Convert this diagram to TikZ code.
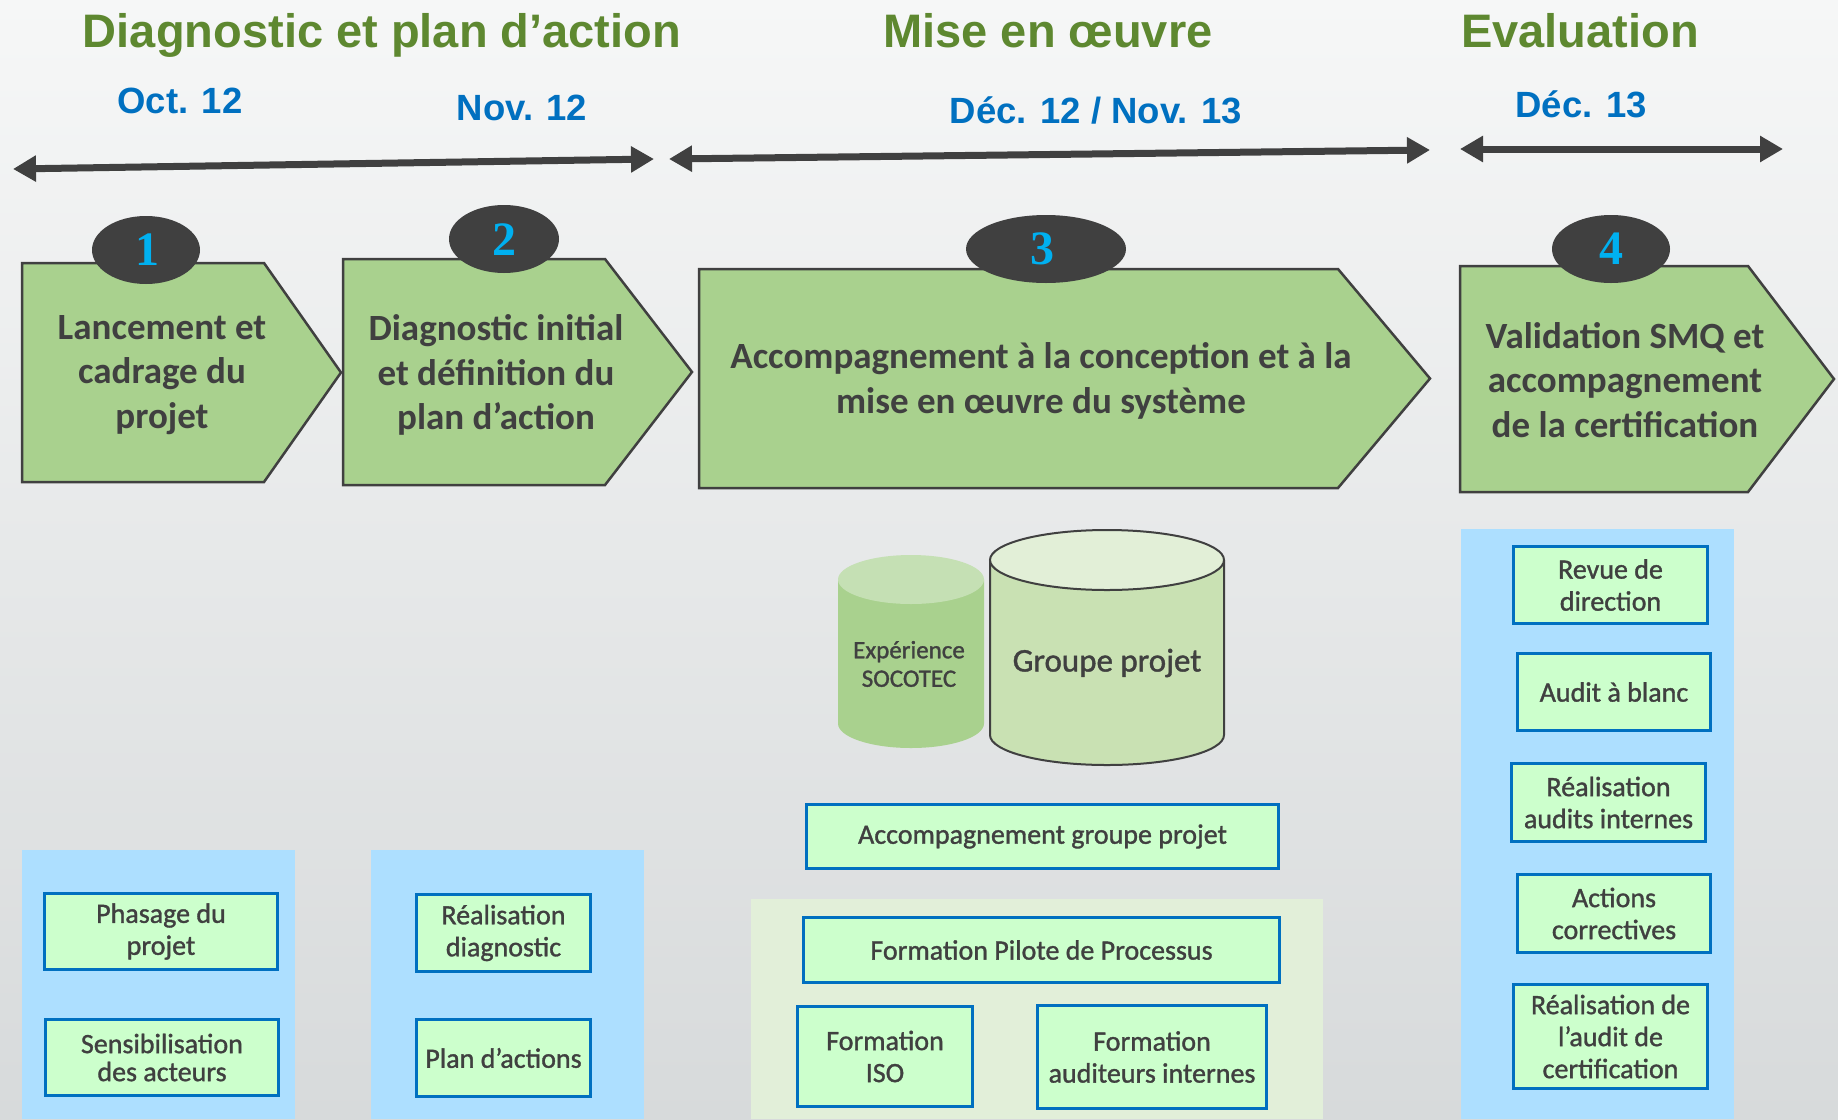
\documentclass[tikz,border=0pt]{standalone}
\usepackage{fontspec}
\setmainfont{Carlito}
\newfontfamily\boxf{Carlito}[FakeBold=1.2]
\newfontfamily\arialf{Liberation Sans}
\newfontfamily\timesf{Liberation Serif}
\usetikzlibrary{arrows.meta}
\definecolor{dg}{HTML}{404040}
\definecolor{shapefill}{HTML}{A9D18E}
\definecolor{numcyan}{HTML}{00B0F0}
\definecolor{boxblue}{HTML}{0070C0}
\definecolor{boxfill}{HTML}{CCFFCC}
\definecolor{panelblue}{HTML}{ADDFFF}
\definecolor{panelgreen}{HTML}{E2EFD9}
\definecolor{titlegreen}{HTML}{5E8830}
\definecolor{dateblue}{HTML}{0070C0}
\definecolor{bgtop}{HTML}{F6F7F7}
\definecolor{bgbot}{HTML}{D7DADB}
\definecolor{cylAbody}{HTML}{A9D18E}
\definecolor{cylAtop}{HTML}{C5E0B4}
\definecolor{cylBbody}{HTML}{C9E1B3}
\definecolor{cylBtop}{HTML}{E2EFD7}
\begin{document}
\begin{tikzpicture}[x=1pt,y=-1pt,
  chev/.style={draw=dg, line width=2.5pt, fill=shapefill, line join=miter},
  numtxt/.style={font=\timesf\bfseries\fontsize{48}{48}\selectfont, text=numcyan, inner sep=0pt},
  chevtxt/.style={font=\bfseries\fontsize{37}{44.5}\selectfont, text=dg, align=center, inner sep=0pt},
  sbox/.style={draw=boxblue, line width=2.8pt, fill=boxfill, align=center, text=dg,
    font=\boxf\fontsize{28}{32}\selectfont, inner sep=0pt},
  ttl/.style={font=\arialf\bfseries\fontsize{47}{56}\selectfont, text=titlegreen, anchor=base, inner sep=0pt},
  dt/.style={font=\arialf\bfseries\fontsize{36.5}{44}\selectfont, text=dateblue, anchor=base, inner sep=0pt},
  tl/.style={line width=7pt, draw=dg, {Triangle[length=23pt,width=25pt]}-{Triangle[length=23pt,width=25pt]}},
]
\useasboundingbox (0,0) rectangle (1838,1119);
\shade[top color=bgtop, bottom color=bgbot] (0,0) rectangle (1838,1119);

% titles
\node[ttl] (t1) at (382,47) {Diagnostic et plan d’action};
\node[ttl] (t2) at (1048,47) {Mise en œuvre};
\node[ttl] (t3) at (1580,47) {Evaluation};

% dates
\node[dt] (d1) at (180,113) {Oct. 12};
\node[dt] (d2) at (522,120) {Nov. 12};
\node[dt] (d3) at (1096,123) {Déc. 12 / Nov. 13};
\node[dt] (d4) at (1581,117) {Déc. 13};

% timeline arrows
\coordinate (a1l) at (13,169);
\coordinate (a1r) at (654,159);
\coordinate (a2l) at (669,159);
\coordinate (a2r) at (1430,150);
\coordinate (a3l) at (1460,149);
\coordinate (a3r) at (1783,149);
\draw[tl] (a1l) -- (a1r);
\draw[tl] (a2l) -- (a2r);
\draw[tl] (a3l) -- (a3r);

% chevrons
\draw[chev] (22,263) -- (264,263) -- (341,372.5) -- (264,482) -- (22,482) -- cycle;
\draw[chev] (343,259) -- (605,259) -- (692,372) -- (605,485) -- (343,485) -- cycle;
\draw[chev] (699,269) -- (1338,269) -- (1430,378.5) -- (1338,488) -- (699,488) -- cycle;
\draw[chev] (1460,266) -- (1748,266) -- (1834,379) -- (1748,492) -- (1460,492) -- cycle;

\node[chevtxt] (c1) at (162,375) {Lancement et\\cadrage du\\projet};
\node[chevtxt] (c2) at (496,375) {Diagnostic initial\\et définition du\\plan d’action};
\node[chevtxt] (c3) at (1041,381) {Accompagnement à la conception et à la\\mise en œuvre du système};
\node[chevtxt] (c4) at (1625,380) {Validation SMQ et\\accompagnement\\de la certification};

% number circles
\fill[dg] (146,250) ellipse[x radius=54, y radius=34];
\fill[dg] (504,239) ellipse[x radius=55, y radius=34];
\fill[dg] (1046,249) ellipse[x radius=80, y radius=34];
\fill[dg] (1611,249) ellipse[x radius=59, y radius=34];
\node[numtxt] (n1) at (147,250) {1};
\node[numtxt] (n2) at (504,240) {2};
\node[numtxt] (n3) at (1042,249) {3};
\node[numtxt] (n4) at (1611,249) {4};

% panels
\fill[panelblue] (22,850) rectangle (295,1119);
\fill[panelblue] (371,850) rectangle (644,1119);
\fill[panelgreen] (751,899) rectangle (1323,1119);
\fill[panelblue] (1461,529) rectangle (1734,1119);

% cylinders
\fill[cylAbody] (838,579.5) -- (838,723.5) arc[start angle=180,end angle=0,x radius=73,y radius=24.5] -- (984,579.5) -- cycle;
\fill[cylAtop] (911,579.5) ellipse[x radius=73, y radius=24.5];
\fill[cylBbody] (990,560) -- (990,735) arc[start angle=180,end angle=0,x radius=117,y radius=30] -- (1224,560) -- cycle;
\draw[dg, line width=2pt] (990,560) -- (990,735) arc[start angle=180,end angle=0,x radius=117,y radius=30] -- (1224,560);
\filldraw[draw=dg, line width=2pt, fill=cylBtop] (1107,560) ellipse[x radius=117, y radius=30];
\node[font=\boxf\fontsize{25}{28.5}\selectfont, text=dg, align=center, inner sep=0pt] (exp) at (909,664) {Expérience\\SOCOTEC};
\node[font=\boxf\fontsize{33}{40}\selectfont, text=dg, inner sep=0pt] (grp) at (1107,663) {Groupe projet};

% small boxes
\node[sbox, minimum width=233pt, minimum height=76pt] (b1) at (161,931.5) {Phasage du\\projet};
\node[sbox, minimum width=233pt, minimum height=76pt, font=\boxf\fontsize{28}{28}\selectfont] (b2) at (162,1057.5) {Sensibilisation\\des acteurs};
\node[sbox, minimum width=174pt, minimum height=77pt] (b3) at (503.5,933) {Réalisation\\diagnostic};
\node[sbox, minimum width=174pt, minimum height=77pt] (b4) at (503.5,1058) {Plan d’actions};
\node[sbox, minimum width=472pt, minimum height=64pt] (b5) at (1042.5,836.5) {Accompagnement groupe projet};
\node[sbox, minimum width=476pt, minimum height=65pt] (b6) at (1041.5,950) {Formation Pilote de Processus};
\node[sbox, minimum width=175pt, minimum height=100pt] (b7) at (885,1056.5) {Formation\\ISO};
\node[sbox, minimum width=229pt, minimum height=103pt] (b8) at (1152,1057) {Formation\\auditeurs internes};
\node[sbox, minimum width=194pt, minimum height=77pt] (b9) at (1610.5,585) {Revue de\\direction};
\node[sbox, minimum width=193pt, minimum height=77pt] (b10) at (1614,692) {Audit à blanc};
\node[sbox, minimum width=194pt, minimum height=78pt] (b11) at (1608.5,802.5) {Réalisation\\audits internes};
\node[sbox, minimum width=193pt, minimum height=78pt] (b12) at (1614,913.5) {Actions\\correctives};
\node[sbox, minimum width=194pt, minimum height=104pt] (b13) at (1610.5,1036.5) {Réalisation de\\l’audit de\\certification};
\end{tikzpicture}
\end{document}
